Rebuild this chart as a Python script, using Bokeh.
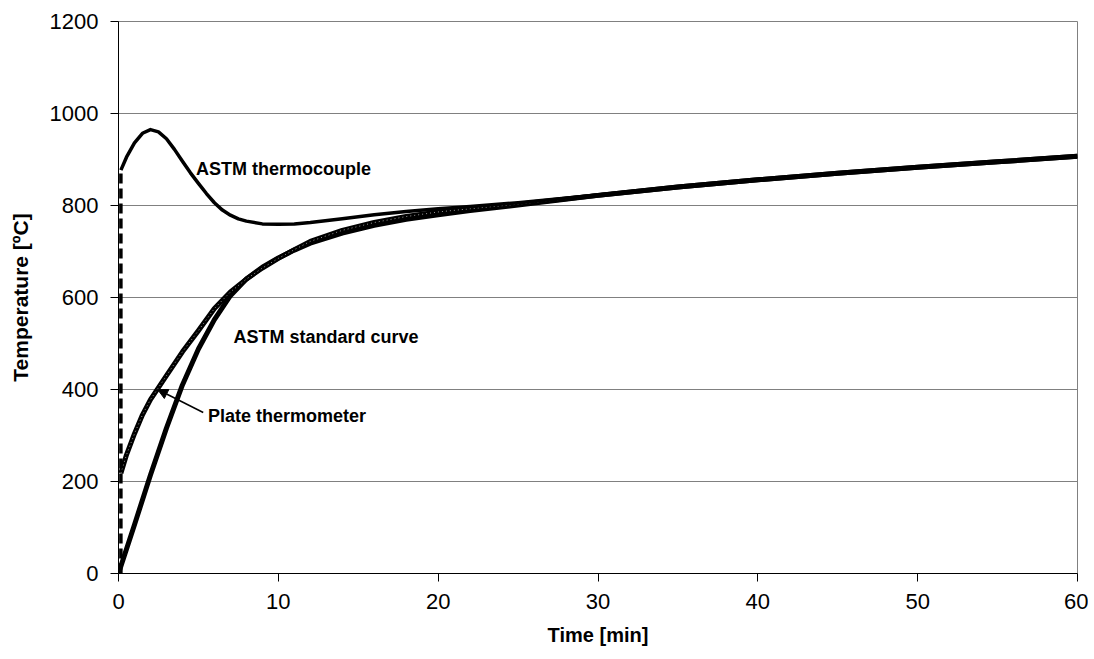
from bokeh.plotting import figure
from bokeh.models import Range1d, Label, Arrow, NormalHead, FixedTicker
from bokeh.embed import file_html
from bokeh.resources import INLINE

# ---- data ----
std_t = [0, 1, 2, 3, 4, 5, 6, 7, 8, 9, 10, 11, 12, 14, 16, 18, 20, 22, 25, 30, 35, 40, 45, 50, 55, 60]
std_T = [0, 106, 214, 316, 410, 488, 552, 604, 640, 666, 686, 703, 718, 740, 757, 770, 780, 789, 801, 822, 840, 856, 870, 883, 895, 907]

plate_t = [0.15, 0.5, 1, 1.5, 2, 2.5, 3, 4, 5, 6, 7, 8, 9, 10, 11, 12, 14, 16, 18, 20, 22, 25, 30, 35, 40, 45, 50, 55, 60]
plate_T = [218, 258, 304, 345, 378, 404, 430, 482, 528, 576, 612, 640, 664, 685, 704, 722, 746, 763, 776, 786, 793, 803, 822, 840, 856, 870, 883, 895, 907]

tc_t = [0.15, 0.5, 1, 1.5, 2, 2.5, 3, 3.5, 4, 4.5, 5, 5.5, 6, 6.5, 7, 7.5, 8, 9, 10, 11, 12, 14, 16, 18, 20, 22, 25, 30, 35, 40, 45, 50, 55, 60]
tc_T = [877, 905, 936, 957, 965, 960, 945, 922, 896, 871, 848, 826, 806, 790, 779, 771, 766, 760, 759, 760, 763, 771, 780, 787, 793, 798, 806, 823, 840, 856, 870, 883, 895, 907]

jump_t = [0.15, 0.15]
jump_T = [0, 877]

x_ticks = [0, 10, 20, 30, 40, 50, 60]
y_ticks = [0, 200, 400, 600, 800, 1000, 1200]

FONT = "Liberation Sans"

p = figure(width=1088, height=659,
           x_range=Range1d(0, 60), y_range=Range1d(0, 1200),
           output_backend="svg", toolbar_location=None,
           min_border_left=118, min_border_right=11,
           min_border_top=21, min_border_bottom=86)

p.outline_line_color = "#808080"
p.outline_line_width = 1
p.background_fill_color = "white"
p.border_fill_color = "white"

p.xgrid.visible = False
p.ygrid.grid_line_color = "#808080"
p.ygrid.grid_line_width = 1

p.xaxis.ticker = FixedTicker(ticks=x_ticks)
p.yaxis.ticker = FixedTicker(ticks=y_ticks)
for ax in (p.xaxis[0], p.yaxis[0]):
    ax.axis_line_color = "black"
    ax.axis_line_width = 1
    ax.major_tick_line_color = "black"
    ax.major_tick_out = 8
    ax.major_tick_in = 0
    ax.minor_tick_line_color = None
    ax.major_label_text_font = FONT
    ax.major_label_text_font_size = "22px"
    ax.major_label_text_color = "black"
    ax.axis_label_text_font = FONT
    ax.axis_label_text_font_style = "bold"
    ax.axis_label_text_font_size = "20px"
    ax.axis_label_text_color = "black"

p.xaxis.axis_label = "Time [min]"
p.yaxis.axis_label = "Temperature [ºC]"
p.yaxis.axis_label_text_font_size = "21px"
p.xaxis.major_label_standoff = 12
p.yaxis.major_label_standoff = 12
p.xaxis.axis_label_standoff = 12
p.yaxis.axis_label_standoff = 15

# curves
p.line(std_t, std_T, line_color="black", line_width=5, line_join="round")
p.line(plate_t, plate_T, line_color="black", line_width=5, line_join="round")
p.line(plate_t, plate_T, line_color="#9a9a9a", line_width=1, line_dash="1 3")
p.line(tc_t, tc_T, line_color="black", line_width=3.5, line_join="round")
p.line(jump_t, jump_T, line_color="black", line_width=3.5, line_dash="10 5")

# annotations
lbl_style = dict(text_font=FONT, text_font_style="bold", text_font_size="18px",
                 text_color="black", text_baseline="middle", text_align="left")
p.add_layout(Label(x=4.85, y=880, text="ASTM thermocouple", **lbl_style))
p.add_layout(Label(x=7.2, y=515, text="ASTM standard curve", **lbl_style))
p.add_layout(Label(x=5.6, y=342, text="Plate thermometer", **lbl_style))
p.add_layout(Arrow(x_start=5.3, y_start=350, x_end=2.45, y_end=400,
                   line_color="black", line_width=1.5,
                   end=NormalHead(size=10, fill_color="black", line_color="black")))

open("out.html", "w").write(file_html(p, INLINE))
